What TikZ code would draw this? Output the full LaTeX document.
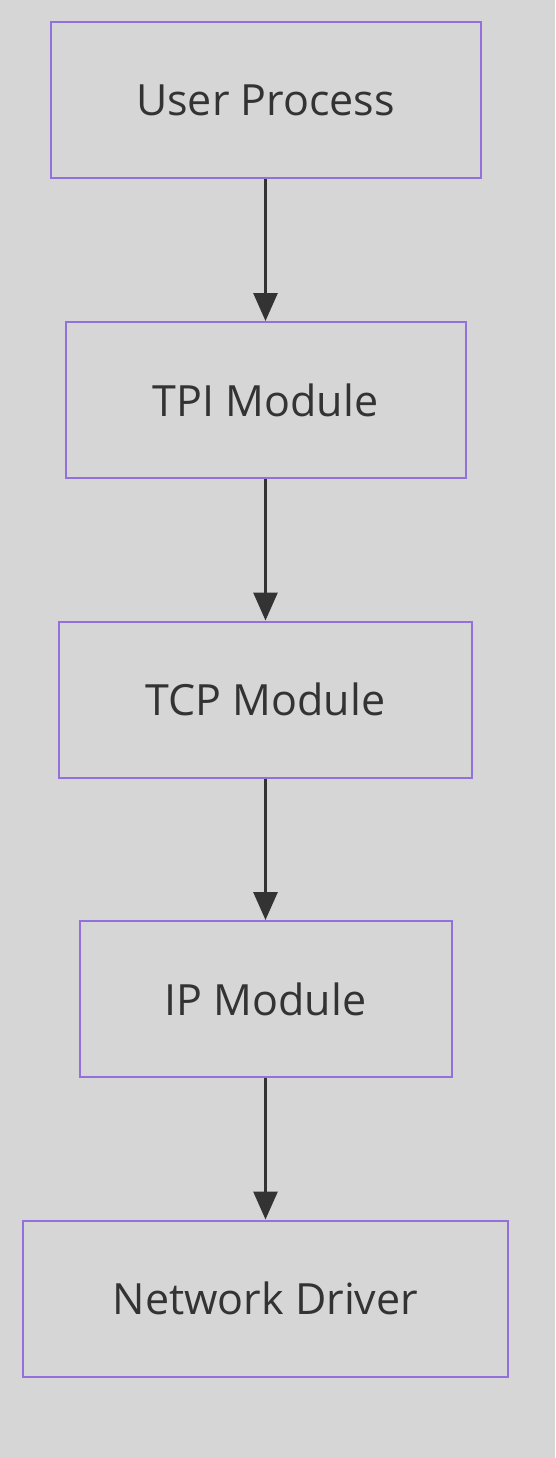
\documentclass[tikz,border=0pt]{standalone}
\usepackage{fontspec}
\setmainfont{Open Sans}
\usetikzlibrary{positioning,arrows.meta}
\definecolor{bgGray}{HTML}{D6D6D6}
\definecolor{boxLine}{HTML}{9370DB}
\definecolor{inkDark}{HTML}{333333}

\begin{document}
\begin{tikzpicture}[
  x=1pt, y=-1pt,
  every node/.style={font=\fontsize{43}{50}\selectfont, text=inkDark},
  blk/.style={draw=boxLine, line width=2pt, fill=bgGray,
              minimum height=156pt, inner sep=0pt},
  arr/.style={-{Triangle[length=28pt,width=24pt]}, line width=3pt, draw=inkDark},
  node distance=141.5pt
]

%% canvas
\fill[bgGray] (0,0) rectangle (555,1458);
\useasboundingbox (0,0) rectangle (555,1458);

\node[blk, minimum width=430pt] (user) at (265.5,100.5) {User Process};
\node[blk, minimum width=400pt, below=of user] (tpi) {TPI Module};
\node[blk, minimum width=413pt, below=of tpi]  (tcp) {TCP Module};
\node[blk, minimum width=372pt, below=of tcp]  (ip)  {IP Module};
\node[blk, minimum width=485pt, below=of ip]   (drv) {Network Driver};

\draw[arr] (user) -- (tpi);
\draw[arr] (tpi)  -- (tcp);
\draw[arr] (tcp)  -- (ip);
\draw[arr] (ip)   -- (drv);

\end{tikzpicture}
\end{document}
